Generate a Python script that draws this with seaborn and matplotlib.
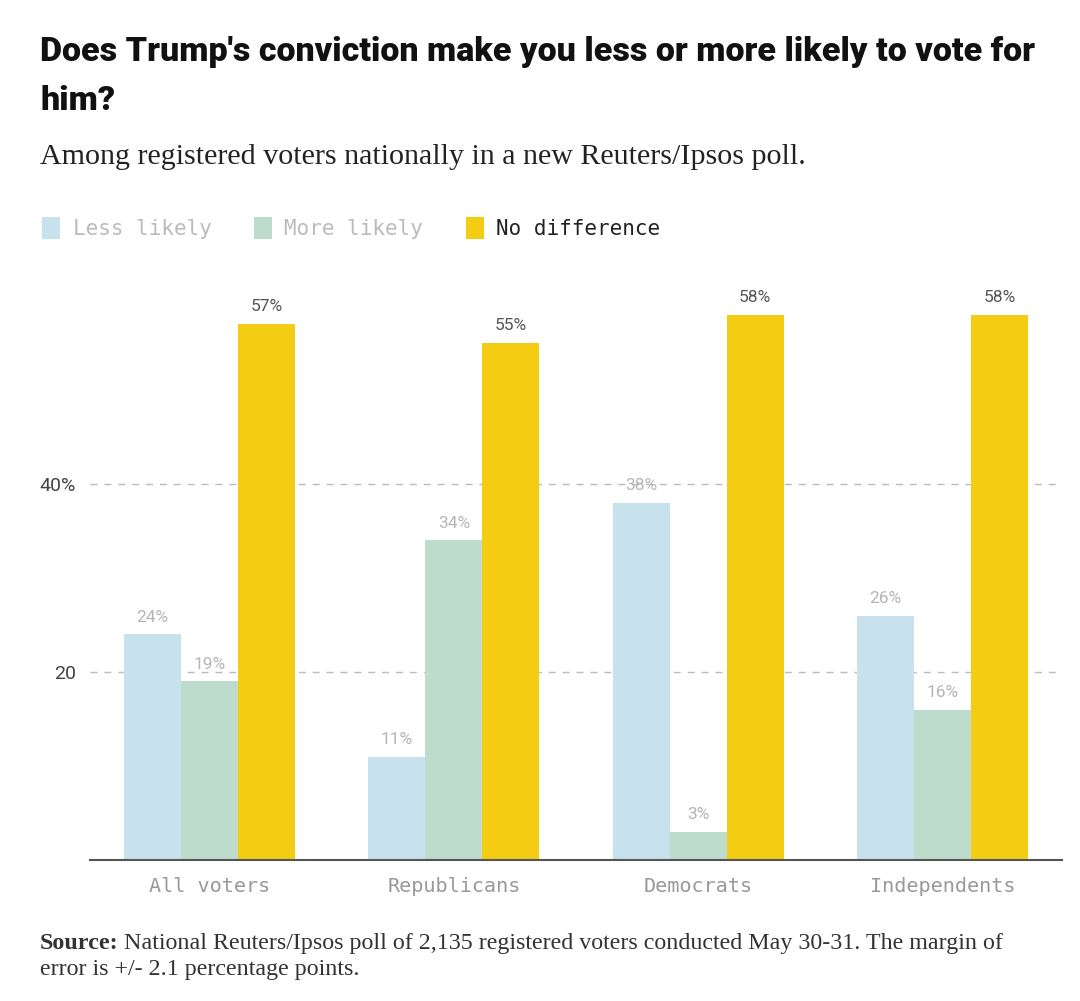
import matplotlib
matplotlib.use("Agg")
import matplotlib.pyplot as plt
import seaborn as sns
import pandas as pd
from matplotlib.patches import Patch

categories = ["All voters", "Republicans", "Democrats", "Independents"]
series_names = ["Less likely", "More likely", "No difference"]
less_likely = [24, 11, 38, 26]
more_likely = [19, 34, 3, 16]
no_difference = [57, 55, 58, 58]
ytick_values = [20, 40]
ytick_labels = ["20", "40%"]

colors = ["#c8e2ed", "#bddccb", "#f5cc14"]
label_colors = ["#b5b5b5", "#b5b5b5", "#555555"]
legend_text_colors = ["#bbbbbb", "#bbbbbb", "#222222"]

rows = []
for name, vals in zip(series_names, [less_likely, more_likely, no_difference]):
    for c, v in zip(categories, vals):
        rows.append({"category": c, "series": name, "value": v})
df = pd.DataFrame(rows)

sns.set_theme(style="white")
plt.rcParams['font.family'] = ['DejaVu Sans']

W, H = 1080, 1001
fig = plt.figure(figsize=(W / 100, H / 100), dpi=100)
ax_left, ax_right, ax_bottom, ax_top = 90, 1062, 860, 280
ax = fig.add_axes([ax_left / W, 1 - ax_bottom / H, (ax_right - ax_left) / W, (ax_bottom - ax_top) / H])

sns.barplot(data=df, x="category", y="value", hue="series", order=categories,
            hue_order=series_names, palette=colors, width=0.70, saturation=1,
            ax=ax, legend=False, linewidth=0)

ax.set_xlim(-0.49, 3.49)
ax.set_ylim(0, (ax_bottom - ax_top) / 9.4)

for cont, lc in zip(ax.containers, label_colors):
    ax.bar_label(cont, labels=[f"{int(round(b.get_height()))}%" for b in cont],
                 padding=7, color=lc, fontsize=12.5, family="Roboto")

ax.set_yticks(ytick_values)
ax.set_yticklabels(ytick_labels, fontsize=14, color="#444444", family="Roboto")
ax.tick_params(axis="y", length=0, pad=10)
ax.tick_params(axis="x", length=0, pad=12)
for lab in ax.get_xticklabels():
    lab.set_family("DejaVu Sans Mono")
    lab.set_fontsize(14.5)
    lab.set_color("#999999")
ax.set_xlabel("")
ax.set_ylabel("")
ax.yaxis.grid(True, linestyle=(0, (5, 5)), color="#bbbbbb", linewidth=1)
ax.set_axisbelow(True)
for s in ["top", "right", "left"]:
    ax.spines[s].set_visible(False)
ax.spines["bottom"].set_color("#555555")
ax.spines["bottom"].set_linewidth(1.5)

handles = [Patch(facecolor=c, edgecolor="none") for c in colors]
leg = fig.legend(handles, series_names, loc="upper left",
                 bbox_to_anchor=(34 / W, 1 - 209 / H), ncol=3, frameon=False,
                 prop={"family": "DejaVu Sans Mono", "size": 15},
                 handlelength=0.85, handleheight=1.2, handletextpad=0.6,
                 columnspacing=2.05, borderaxespad=0)
for t, c in zip(leg.get_texts(), legend_text_colors):
    t.set_color(c)

fig.text(40 / W, 1 - 36 / H, "Does Trump's conviction make you less or more likely to vote for\nhim?",
         ha="left", va="top", fontsize=24.5, fontweight="black", family="Roboto",
         color="#111111", linespacing=1.68)
fig.text(40 / W, 1 - 144 / H, "Among registered voters nationally in a new Reuters/Ipsos poll.",
         ha="left", va="top", fontsize=21.6, family="Liberation Serif", color="#222222")

fs = 17.3
t_bold = fig.text(40 / W, 1 - 933 / H, "Source:", ha="left", va="top", fontsize=fs,
                  family="Liberation Serif", color="#333333", fontweight="bold")
fig.canvas.draw()
bb = t_bold.get_window_extent()
fig.text((bb.x1 + 5) / W, 1 - 933 / H,
         "National Reuters/Ipsos poll of 2,135 registered voters conducted May 30-31. The margin of",
         ha="left", va="top", fontsize=fs, family="Liberation Serif", color="#333333")
fig.text(40 / W, 1 - 959 / H, "error is +/- 2.1 percentage points.",
         ha="left", va="top", fontsize=fs, family="Liberation Serif", color="#333333")

fig.savefig("out.png", dpi=100, facecolor="white")
